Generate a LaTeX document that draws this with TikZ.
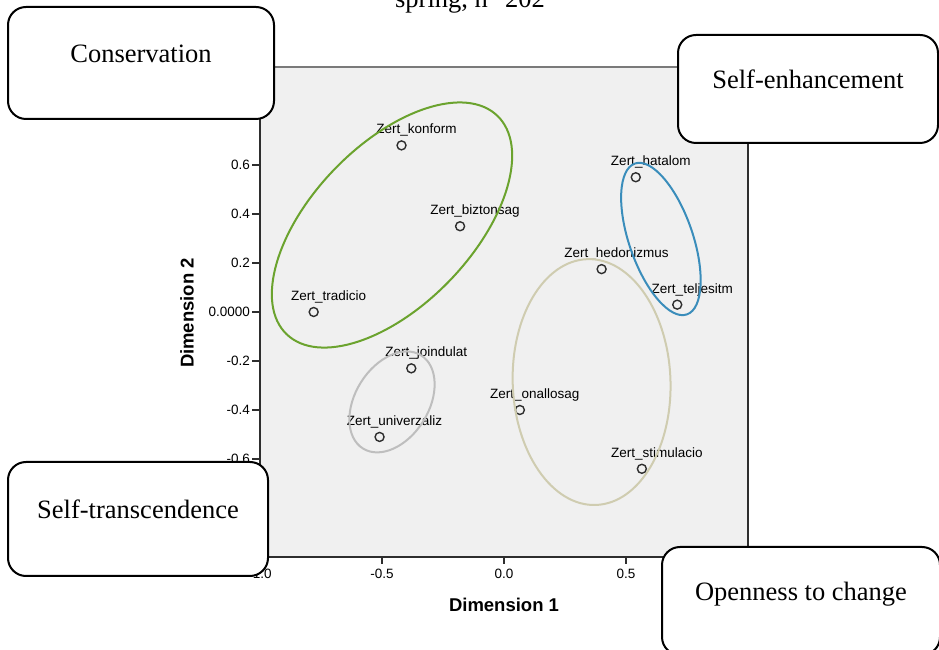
\documentclass[tikz,border=0pt]{standalone}
\usepackage{fontspec}
\setmainfont{Liberation Serif}
\setsansfont{Liberation Sans}
\definecolor{mdsGreen}{HTML}{6BA32E}
\definecolor{mdsBlue}{HTML}{3A8DBB}
\definecolor{mdsGrey}{HTML}{BEBEBE}
\definecolor{mdsKhaki}{HTML}{CFCCB0}
\definecolor{mdsBack}{HTML}{F0F0F0}
\definecolor{mdsFrame}{HTML}{7A7A7A}
\definecolor{mdsAxis}{HTML}{2E2E2E}
\usetikzlibrary{calc,positioning}

\begin{document}
\begin{tikzpicture}[x=1pt, y=1pt,
  valuebox/.style={draw, line width=2pt, rounded corners=18pt, fill=white,
    inner sep=0pt, text height=0pt, text depth=0pt,
    font=\fontsize{26.5}{30}\selectfont},
  pt/.style={circle, draw=mdsAxis, line width=1.4pt, inner sep=0pt, minimum size=9pt},
  ptlab/.style={font=\fontsize{13.5}{15}\sffamily, inner sep=0pt},
  ticklab/.style={font=\fontsize{13.5}{15}\sffamily, inner sep=0pt},
  axistitle/.style={font=\fontsize{18.5}{20}\sffamily\bfseries, inner sep=0pt},
  group/.style={line width=2pt}]

  \useasboundingbox (0,0) rectangle (939,650);
  \clip (0,0) rectangle (939,650);

  % Page header, cut off at the top
  \node[font=\fontsize{26.5}{30}\selectfont, anchor=base, inner sep=0pt] (header) at (470,642) {spring, n° 202};

  % MDS plot, in data coordinates
  \begin{scope}[shift={(504,338)}, x=244pt, y=245pt]
    % Plot area
    \fill[mdsBack] (-1,-1) rectangle (1,1);
    \draw[mdsFrame, line width=1.5pt] (-1,1) -- (1,1);
    \draw[mdsAxis, line width=1.2pt] (1,1) -- (1,-1);

    % Points
    \node[pt] (konform) at (-0.42,0.68) {};
    \node[pt] (biztonsag) at (-0.18,0.35) {};
    \node[pt] (tradicio) at (-0.78,0.0) {};
    \node[pt] (hatalom) at (0.54,0.55) {};
    \node[pt] (hedonizmus) at (0.40,0.175) {};
    \node[pt] (teljesitm) at (0.71,0.03) {};
    \node[pt] (joindulat) at (-0.38,-0.23) {};
    \node[pt] (univerzaliz) at (-0.51,-0.51) {};
    \node[pt] (onallosag) at (0.065,-0.40) {};
    \node[pt] (stimulacio) at (0.565,-0.64) {};

    % Point labels
    \node[ptlab] (konformlab) at ($(konform)+(15pt,15pt)$) {Zert\_konform};
    \node[ptlab] (biztonsaglab) at ($(biztonsag)+(15pt,15pt)$) {Zert\_biztonsag};
    \node[ptlab] (tradiciolab) at ($(tradicio)+(15pt,15pt)$) {Zert\_tradicio};
    \node[ptlab] (hatalomlab) at ($(hatalom)+(15pt,15pt)$) {Zert\_hatalom};
    \node[ptlab] (hedonizmuslab) at ($(hedonizmus)+(15pt,15pt)$) {Zert\_hedonizmus};
    \node[ptlab] (teljesitmlab) at ($(teljesitm)+(15pt,15pt)$) {Zert\_teljesitm};
    \node[ptlab] (joindulatlab) at ($(joindulat)+(15pt,15pt)$) {Zert\_joindulat};
    \node[ptlab] (univerzalizlab) at ($(univerzaliz)+(15pt,15pt)$) {Zert\_univerzaliz};
    \node[ptlab] (onallosaglab) at ($(onallosag)+(15pt,15pt)$) {Zert\_onallosag};
    \node[ptlab] (stimulaciolab) at ($(stimulacio)+(15pt,15pt)$) {Zert\_stimulacio};

    % Value groups
    \draw[group, mdsGreen] (-0.459,0.355) ellipse [x radius=0.622, y radius=0.327, rotate=46];
    \draw[group, mdsBlue] (0.643,0.298) ellipse [x radius=0.327, y radius=0.130, rotate=109];
    \draw[group, mdsGrey] (-0.459,-0.367) ellipse [x radius=0.225, y radius=0.150, rotate=58];
    \draw[group, mdsKhaki] (0.359,-0.286) ellipse [x radius=0.504, y radius=0.322, rotate=92];

    % Axes
    \draw[mdsAxis, line width=2pt] (-1,1) -- (-1,-1) -- (1,-1);
    \foreach \v/\t in {0.6/0.6, 0.4/0.4, 0.2/0.2, 0/0.0000, -0.2/-0.2, -0.4/-0.4, -0.6/-0.6} {
      \draw[mdsAxis, line width=1.5pt] (-1,\v) -- ++(-8pt,0);
      \node[ticklab, anchor=east] at ($(-1,\v)+(-10pt,0)$) {\t};
    }
    \foreach \u/\t in {-1/-1.0, -0.5/-0.5, 0/0.0, 0.5/0.5} {
      \draw[mdsAxis, line width=1.5pt] (\u,-1) -- ++(0,-7pt);
      \node[ticklab, anchor=north] at ($(\u,-1)+(0,-12pt)$) {\t};
    }
  \end{scope}

  % Axis titles
  \node[axistitle] (dimone) at (504,45) {Dimension 1};
  \node[axistitle, rotate=90] (dimtwo) at (187,337) {Dimension 2};

  % Value boxes
  \node[valuebox, minimum width=266pt, minimum height=112pt] (conservation) at (141,587) {Conservation};
  \node[valuebox, minimum width=260pt, minimum height=108pt] (enhancement) at (808,561) {Self-enhancement};
  \node[valuebox, minimum width=260pt, minimum height=114pt] (transcendence) at (138,131) {Self-transcendence};
  \node[valuebox, minimum width=278pt, minimum height=108pt] (openness) at (801,49) {Openness to change};

\end{tikzpicture}
\end{document}
